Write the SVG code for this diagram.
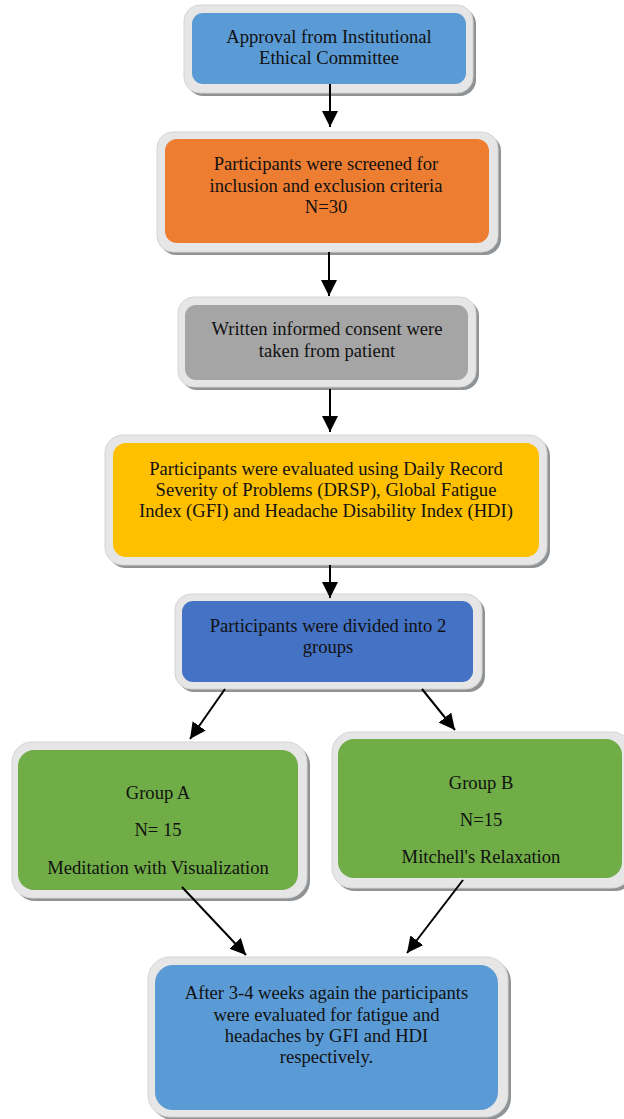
<svg xmlns="http://www.w3.org/2000/svg" width="624" height="1119" viewBox="0 0 624 1119">
<defs>
<marker id="ah" viewBox="0 0 16 16" refX="16" refY="8" markerWidth="16" markerHeight="16" markerUnits="userSpaceOnUse" orient="auto">
<path d="M0,0 L16,8 L0,16 z" fill="#000"/>
</marker>
</defs>
<style>
.sh{fill:#8F9396}
.fr{fill:#E6E6E6;stroke:#D4D4D4;stroke-width:1}
text{font-family:'Liberation Serif','Times New Roman',serif;font-size:18.6px;fill:#111;text-anchor:middle}
.c{stroke:#000;stroke-width:2;fill:none;marker-end:url(#ah)}
</style>
<rect width="624" height="1119" fill="#fff"/>
<g id="n1">
<rect class="sh" x="187" y="8" width="289" height="88" rx="16"/>
<rect class="fr" x="184" y="5" width="289" height="88" rx="16"/>
<rect x="192" y="13" width="274" height="71" rx="11" fill="#5B9BD5"/>
<text x="329" y="43">Approval from Institutional</text>
<text x="329" y="64">Ethical Committee</text>
</g>
<g id="n2">
<rect class="sh" x="160" y="135" width="341" height="120" rx="16"/>
<rect class="fr" x="157" y="132" width="341" height="120" rx="16"/>
<rect x="165" y="139" width="324" height="104" rx="12" fill="#ED7D31"/>
<text x="326" y="170">Participants were screened for</text>
<text x="326" y="192">inclusion and exclusion criteria</text>
<text x="326" y="213">N=30</text>
</g>
<g id="n3">
<rect class="sh" x="181" y="300" width="298" height="90" rx="16"/>
<rect class="fr" x="178" y="297" width="298" height="90" rx="16"/>
<rect x="185" y="305" width="283" height="75" rx="11" fill="#A5A5A5"/>
<text x="327" y="335">Written informed consent were</text>
<text x="327" y="357">taken from patient</text>
</g>
<g id="n4">
<rect class="sh" x="108" y="438" width="442" height="130" rx="18"/>
<rect class="fr" x="105" y="435" width="442" height="130" rx="18"/>
<rect x="113" y="443" width="426" height="114" rx="13" fill="#FFC000"/>
<text x="326" y="475">Participants were evaluated using Daily Record</text>
<text x="326" y="496">Severity of Problems (DRSP), Global Fatigue</text>
<text x="326" y="517">Index (GFI) and Headache Disability Index (HDI)</text>
</g>
<g id="n5">
<rect class="sh" x="178" y="597" width="307" height="95" rx="16"/>
<rect class="fr" x="175" y="594" width="307" height="95" rx="16"/>
<rect x="182" y="601" width="291" height="81" rx="11" fill="#4472C4"/>
<text x="328" y="632">Participants were divided into 2</text>
<text x="328" y="653">groups</text>
</g>
<g id="nA">
<rect class="sh" x="15" y="745" width="295" height="156" rx="20"/>
<rect class="fr" x="12" y="742" width="295" height="156" rx="20"/>
<rect x="18" y="750" width="280" height="140" rx="16" fill="#70AD47"/>
<text x="158" y="799">Group A</text>
<text x="158" y="836">N= 15</text>
<text x="158" y="874">Meditation with Visualization</text>
</g>
<g id="nB">
<rect class="sh" x="335" y="735" width="300" height="156" rx="20"/>
<rect class="fr" x="332" y="732" width="300" height="156" rx="20"/>
<rect x="338" y="739" width="284" height="139" rx="16" fill="#70AD47"/>
<text x="481" y="789">Group B</text>
<text x="481" y="826">N=15</text>
<text x="481" y="863">Mitchell's Relaxation</text>
</g>
<g id="n6">
<rect class="sh" x="151" y="960" width="360" height="160" rx="22"/>
<rect class="fr" x="148" y="957" width="360" height="160" rx="22"/>
<rect x="155" y="965" width="343" height="145" rx="18" fill="#5B9BD5"/>
<text x="326.5" y="999">After 3-4 weeks again the participants</text>
<text x="326.5" y="1021">were evaluated for fatigue and</text>
<text x="326.5" y="1042">headaches by GFI and HDI</text>
<text x="326.5" y="1063">respectively.</text>
</g>
<g id="connectors">
<line class="c" x1="330" y1="84" x2="330" y2="127"/>
<line class="c" x1="329" y1="252" x2="329" y2="296"/>
<line class="c" x1="330" y1="389" x2="330" y2="432"/>
<line class="c" x1="330" y1="565" x2="330" y2="598"/>
<line class="c" x1="225" y1="689" x2="190" y2="739"/>
<line class="c" x1="422" y1="689" x2="455" y2="730"/>
<line class="c" x1="182" y1="887" x2="246" y2="955"/>
<line class="c" x1="463" y1="880" x2="407" y2="953"/>
</g>
</svg>
